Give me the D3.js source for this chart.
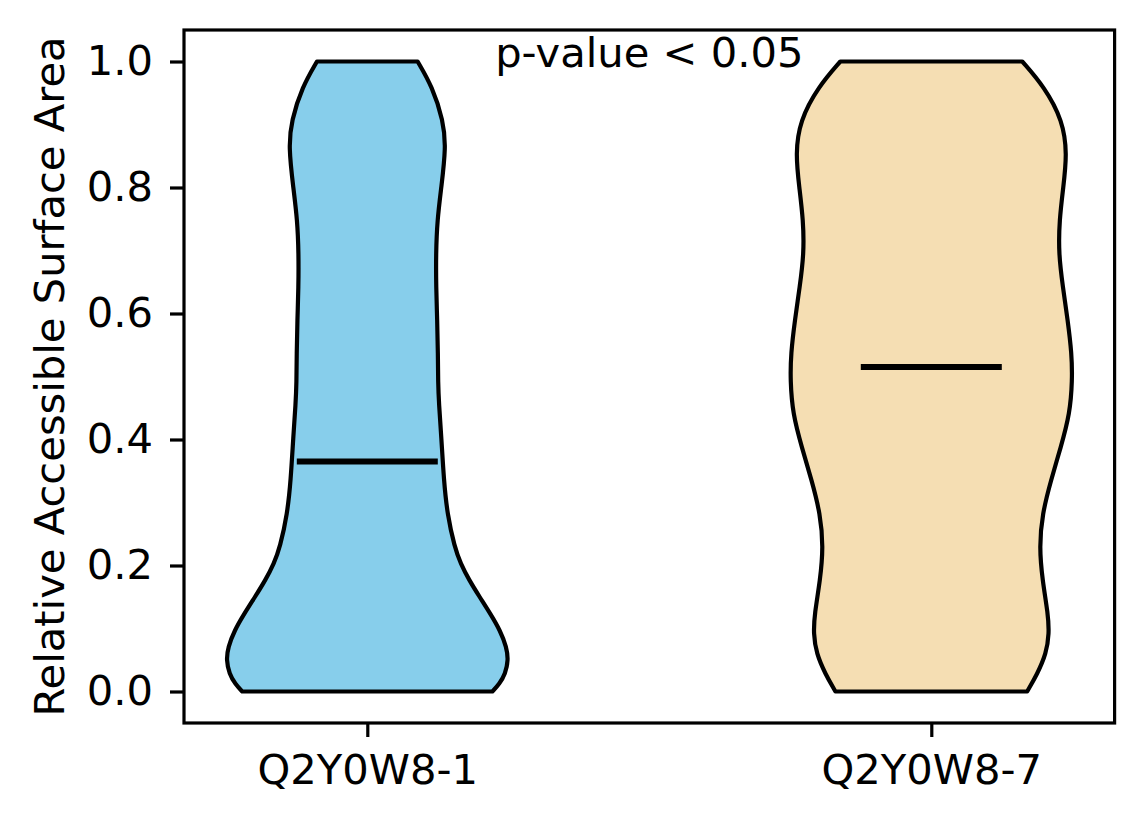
<!DOCTYPE html>
<html>
<head>
<meta charset="utf-8">
<script src="https://cdn.jsdelivr.net/npm/d3@7"></script>
<style>
  body { margin: 0; background: #fff; }
  text { font-family: "DejaVu Sans", sans-serif; }
</style>
</head>
<body>
<div id="chart"></div>
<script>
// groups and their violin profiles: [value, relative density]
const groups = ['Q2Y0W8-1', 'Q2Y0W8-7'];
const colors = ['#87CEEB', '#F5DEB3'];
const medians = [0.365, 0.515];
const yTicks = [0.0, 0.2, 0.4, 0.6, 0.8, 1.0];

const profile1 = [
  [0.0, 0.887], [0.012, 0.937], [0.028, 0.979], [0.05, 1.0], [0.07, 0.988],
  [0.097, 0.942], [0.123, 0.874], [0.150, 0.797], [0.177, 0.722], [0.203, 0.662],
  [0.229, 0.619], [0.282, 0.567], [0.335, 0.543], [0.404, 0.525], [0.457, 0.508],
  [0.49, 0.502], [0.536, 0.501], [0.589, 0.496], [0.642, 0.488], [0.695, 0.487],
  [0.748, 0.496], [0.80, 0.525], [0.864, 0.558], [0.906, 0.539], [0.96, 0.461],
  [1.0, 0.357]
];
const profile2 = [
  [0.0, 0.68], [0.028, 0.752], [0.06, 0.815], [0.092, 0.836], [0.123, 0.828],
  [0.177, 0.788], [0.229, 0.766], [0.282, 0.787], [0.335, 0.848], [0.388, 0.919],
  [0.441, 0.983], [0.494, 1.0], [0.536, 0.996], [0.589, 0.968], [0.642, 0.933],
  [0.695, 0.903], [0.748, 0.908], [0.80, 0.936], [0.853, 0.963], [0.906, 0.933],
  [0.96, 0.801], [1.0, 0.645]
];
const profiles = [profile1, profile2];

const W = 1144, H = 824;
const fontSize = '41.67px';
const margin = { left: 184, top: 30, right: 29.4, bottom: 101 };
const iw = W - margin.left - margin.right;
const ih = H - margin.top - margin.bottom;

const svg = d3.select('#chart').append('svg')
  .attr('width', W)
  .attr('height', H);

const g = svg.append('g')
  .attr('transform', `translate(${margin.left},${margin.top})`);

const x = d3.scaleLinear().domain([0.675, 2.325]).range([0, iw]);
const y = d3.scaleLinear().domain([-0.05, 1.05]).range([ih, 0]);

const halfWidth = 0.25; // matplotlib default widths=0.5

profiles.forEach((prof, i) => {
  const pos = i + 1;
  const area = d3.area()
    .y(d => y(d[0]))
    .x0(d => x(pos - d[1] * halfWidth))
    .x1(d => x(pos + d[1] * halfWidth))
    .curve(d3.curveBasis);

  g.append('path')
    .datum(prof)
    .attr('d', area)
    .attr('fill', colors[i])
    .attr('stroke', '#000')
    .attr('stroke-width', 4.2)
    .attr('stroke-linejoin', 'round');

  g.append('line')
    .attr('x1', x(pos - halfWidth / 2))
    .attr('x2', x(pos + halfWidth / 2))
    .attr('y1', y(medians[i]))
    .attr('y2', y(medians[i]))
    .attr('stroke', '#000')
    .attr('stroke-width', 6);
});

// axes
const yAxis = g.append('g')
  .call(d3.axisLeft(y).tickValues(yTicks).tickFormat(d3.format('.1f'))
    .tickSize(14).tickPadding(17));

const xAxis = g.append('g')
  .attr('transform', `translate(0,${ih})`)
  .call(d3.axisBottom(x).tickValues([1, 2]).tickFormat((d, i) => groups[i])
    .tickSize(14).tickPadding(17));

[yAxis, xAxis].forEach(ax => {
  ax.select('.domain').remove();
  ax.selectAll('.tick line').attr('stroke', '#000').attr('stroke-width', 3.2);
  ax.selectAll('.tick text')
    .attr('fill', '#000')
    .style('font-family', '"DejaVu Sans", sans-serif')
    .style('font-size', fontSize);
});

// frame
g.append('rect')
  .attr('width', iw)
  .attr('height', ih)
  .attr('fill', 'none')
  .attr('stroke', '#000')
  .attr('stroke-width', 3.2);

// annotation
g.append('text')
  .attr('x', iw / 2)
  .attr('y', 37)
  .attr('text-anchor', 'middle')
  .style('font-size', fontSize)
  .text('p-value < 0.05');

// y label
svg.append('text')
  .attr('transform', `translate(64,${margin.top + ih / 2}) rotate(-90)`)
  .attr('text-anchor', 'middle')
  .style('font-size', fontSize)
  .text('Relative Accessible Surface Area');
</script>
</body>
</html>
